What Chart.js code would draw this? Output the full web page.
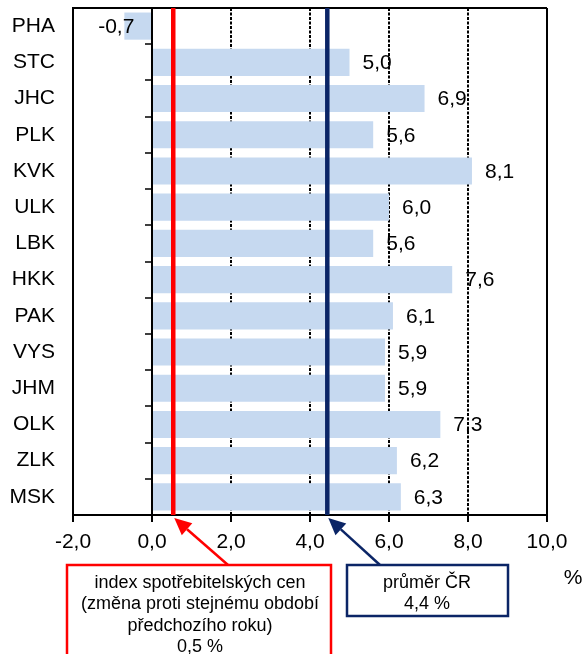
<!DOCTYPE html>
<html>
<head>
<meta charset="utf-8">
<script src="https://cdn.jsdelivr.net/npm/chart.js@4/dist/chart.umd.min.js"></script>
<style>
  html, body { margin: 0; padding: 0; background: #fff; }
  #wrap { width: 585px; height: 654px; position: relative; }
</style>
</head>
<body>
<div id="wrap"><canvas id="chart"></canvas></div>
<script>
// regions and their values (%)
const regions = ["PHA", "STC", "JHC", "PLK", "KVK", "ULK", "LBK", "HKK", "PAK", "VYS", "JHM", "OLK", "ZLK", "MSK"];
const growth = [-0.7, 5.0, 6.9, 5.6, 8.1, 6.0, 5.6, 7.6, 6.1, 5.9, 5.9, 7.3, 6.2, 6.3];
const xMin = -2;
const xMax = 10;
const xStep = 2;
// reference lines
const cpiValue = 0.5;
const avgValue = 4.4;
const cpiText = ["index spotřebitelských cen", "(změna proti stejnému období", "předchozího roku)", "0,5 %"];
const avgText = ["průměr ČR", "4,4 %"];
const unitText = "%";

const RED = "#ff0000";
const NAVY = "#0b2566";
const FONT = "Liberation Sans, Arial, sans-serif";
const LABEL_SIZE = 21;

const fmt = (v) => v.toFixed(1).replace(".", ",");

// draws an arrow with a filled head at (x2, y2)
const drawArrow = (ctx, x1, y1, x2, y2, color) => {
  const ang = Math.atan2(y2 - y1, x2 - x1);
  const headLen = 17;
  const headW = 8;
  const bx = x2 - headLen * Math.cos(ang);
  const by = y2 - headLen * Math.sin(ang);
  ctx.strokeStyle = color;
  ctx.lineWidth = 2.5;
  ctx.beginPath();
  ctx.moveTo(x1, y1);
  ctx.lineTo(bx, by);
  ctx.stroke();
  ctx.fillStyle = color;
  ctx.beginPath();
  ctx.moveTo(x2, y2);
  ctx.lineTo(bx + headW * Math.sin(ang), by - headW * Math.cos(ang));
  ctx.lineTo(bx - headW * Math.sin(ang), by + headW * Math.cos(ang));
  ctx.closePath();
  ctx.fill();
};

// draws a framed box with centered lines of text
const drawBox = (ctx, left, top, w, h, color, lines, firstY, lineH, centerX) => {
  ctx.strokeStyle = color;
  ctx.lineWidth = 2.5;
  ctx.strokeRect(left, top, w, h);
  ctx.fillStyle = "#000";
  ctx.font = "18px " + FONT;
  ctx.textAlign = "center";
  ctx.textBaseline = "middle";
  lines.forEach((t, i) => ctx.fillText(t, centerX, firstY + i * lineH));
};

const extrasPlugin = {
  id: "extras",
  afterDatasetsDraw(chart) {
    const ctx = chart.ctx;
    const area = chart.chartArea;
    const xs = chart.scales.x;
    const ys = chart.scales.y;
    ctx.save();

    // top frame line
    ctx.strokeStyle = "#000";
    ctx.lineWidth = 2;
    ctx.beginPath();
    ctx.moveTo(area.left, area.top);
    ctx.lineTo(area.right, area.top);
    ctx.stroke();

    // small tick marks on the zero axis between categories
    const zeroX = Math.round(xs.getPixelForValue(0));
    const step = (area.bottom - area.top) / regions.length;
    ctx.lineWidth = 1.5;
    ctx.beginPath();
    for (let i = 1; i < regions.length; i++) {
      const y = Math.round(area.top + i * step);
      ctx.moveTo(zeroX - 7, y);
      ctx.lineTo(zeroX, y);
    }
    ctx.stroke();

    // value labels
    ctx.fillStyle = "#000";
    ctx.font = LABEL_SIZE + "px " + FONT;
    ctx.textBaseline = "middle";
    growth.forEach((v, i) => {
      const x = xs.getPixelForValue(v);
      const y = ys.getPixelForValue(i) + 1;
      if (v >= 0) {
        ctx.textAlign = "left";
        ctx.fillText(fmt(v), x + 13, y);
      } else {
        ctx.textAlign = "right";
        ctx.fillText(fmt(v), x + 10, y);
      }
    });

    // reference lines
    const cpiX = xs.getPixelForValue(cpiValue) + 1.5;
    const avgX = xs.getPixelForValue(avgValue) + 1.5;
    ctx.lineWidth = 4.5;
    ctx.strokeStyle = RED;
    ctx.beginPath();
    ctx.moveTo(cpiX, area.top);
    ctx.lineTo(cpiX, area.bottom);
    ctx.stroke();
    ctx.strokeStyle = NAVY;
    ctx.beginPath();
    ctx.moveTo(avgX, area.top);
    ctx.lineTo(avgX, area.bottom);
    ctx.stroke();

    // arrows + boxes
    drawArrow(ctx, 228, 565, cpiX + 1, area.bottom + 3, RED);
    drawArrow(ctx, 380, 565, avgX + 1, area.bottom + 3, NAVY);
    drawBox(ctx, 67, 565, 264, 110, RED, cpiText, 583, 21.5, 200);
    drawBox(ctx, 347, 565, 161, 51, NAVY, avgText, 583, 21, 427);

    // unit label
    ctx.fillStyle = "#000";
    ctx.font = LABEL_SIZE + "px " + FONT;
    ctx.textAlign = "center";
    ctx.fillText(unitText, 573, 578);
    ctx.restore();
  },
};

const gridDash = (c) => {
  if (!c.tick) return [];
  const v = c.tick.value;
  return v === 0 || v === xMin || v === xMax ? [] : [3, 1.5];
};

new Chart(document.getElementById("chart"), {
  type: "bar",
  data: {
    labels: regions,
    datasets: [
      {
        data: growth,
        backgroundColor: "#c6d9f0",
        borderWidth: 0,
        barPercentage: 0.75,
        categoryPercentage: 1,
      },
    ],
  },
  options: {
    indexAxis: "y",
    responsive: true,
    maintainAspectRatio: false,
    animation: false,
    layout: { padding: { top: 8, right: 38, left: 0, bottom: 0 } },
    plugins: { legend: { display: false }, tooltip: { enabled: false } },
    scales: {
      x: {
        min: xMin,
        max: xMax,
        ticks: {
          stepSize: xStep,
          color: "#000",
          font: { family: FONT, size: LABEL_SIZE },
          padding: 8,
          maxRotation: 0,
          callback: (v) => fmt(v),
        },
        grid: { color: "#000", lineWidth: 2, tickLength: 7, tickColor: "#000", tickWidth: 2 },
        border: { display: true, color: "#000", width: 2, dash: gridDash },
        afterFit: (s) => { s.height = 139; s.paddingLeft = 0; s.paddingRight = 0; },
      },
      y: {
        grid: { display: false },
        border: { display: true, color: "#000", width: 2 },
        ticks: { color: "#000", font: { family: FONT, size: LABEL_SIZE }, padding: 10 },
        afterFit: (s) => { s.width = 73; s.paddingTop = 0; s.paddingBottom = 0; },
      },
    },
  },
  plugins: [extrasPlugin],
});
</script>
</body>
</html>
